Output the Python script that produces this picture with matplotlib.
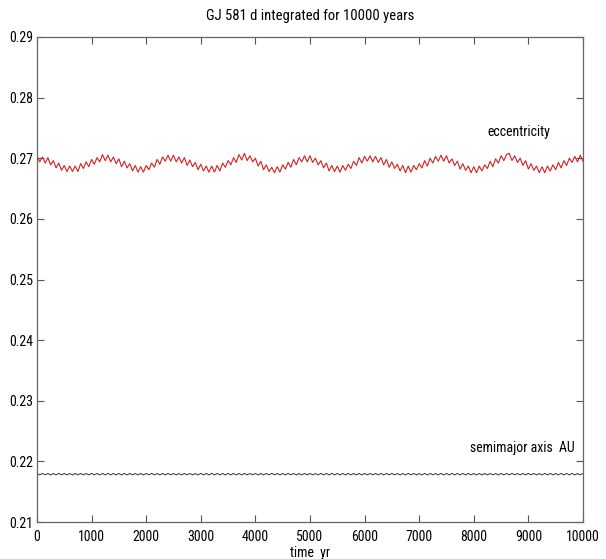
import matplotlib.pyplot as plt
from matplotlib import font_manager
import numpy as np

# time samples (years), one every 50 yr
time_yr = np.arange(0, 10001, 50)

# eccentricity
eccentricity = [
    0.2704, 0.2694, 0.2702, 0.2692, 0.2701, 0.2689, 0.2696, 0.2684, 0.2692, 0.2680,
    0.2688, 0.2678, 0.2687, 0.2678,
    0.2687, 0.2678, 0.2691, 0.2683, 0.2694, 0.2686, 0.2698, 0.2690, 0.2701, 0.2694,
    0.2706, 0.2696,
    0.2705, 0.2694, 0.2702, 0.2691, 0.2699, 0.2686, 0.2695, 0.2684, 0.2691, 0.2679,
    0.2688, 0.2677, 0.2686,
    0.2677, 0.2688, 0.2681, 0.2692, 0.2685, 0.2698, 0.2690, 0.2702, 0.2695, 0.2705,
    0.2695,
    0.2705, 0.2694, 0.2702, 0.2692, 0.2701, 0.2688, 0.2697, 0.2686, 0.2693, 0.2681,
    0.2690, 0.2679, 0.2687, 0.2677, 0.2687,
    0.2677, 0.2688, 0.2679, 0.2692, 0.2685, 0.2696, 0.2689, 0.2701, 0.2693, 0.2706,
    0.2697, 0.2708,
    0.2696, 0.2704, 0.2694, 0.2700, 0.2687, 0.2695, 0.2681, 0.2689, 0.2678, 0.2685,
    0.2676,
    0.2686, 0.2677, 0.2689, 0.2682, 0.2693, 0.2685, 0.2698, 0.2689, 0.2701, 0.2694,
    0.2704, 0.2694,
    0.2704, 0.2693, 0.2700, 0.2689, 0.2696, 0.2684, 0.2692, 0.2679, 0.2688, 0.2678,
    0.2687,
    0.2677, 0.2688, 0.2680, 0.2690, 0.2683, 0.2695, 0.2688, 0.2701, 0.2692, 0.2703,
    0.2695, 0.2704,
    0.2694, 0.2703, 0.2693, 0.2701, 0.2689, 0.2698, 0.2685, 0.2694, 0.2683, 0.2690,
    0.2679, 0.2688, 0.2676, 0.2687,
    0.2677, 0.2688, 0.2681, 0.2691, 0.2684, 0.2696, 0.2687, 0.2700, 0.2692, 0.2703,
    0.2695, 0.2705,
    0.2695, 0.2704, 0.2692, 0.2699, 0.2688, 0.2695, 0.2682, 0.2691, 0.2680, 0.2687,
    0.2676, 0.2686,
    0.2676, 0.2687, 0.2679, 0.2689, 0.2683, 0.2695, 0.2686, 0.2699, 0.2692, 0.2704,
    0.2696, 0.2706, 0.2708,
    0.2696, 0.2704, 0.2693, 0.2700, 0.2688, 0.2696, 0.2682, 0.2691, 0.2680, 0.2687,
    0.2676, 0.2686,
    0.2676, 0.2687, 0.2679, 0.2689, 0.2681, 0.2693, 0.2684, 0.2696, 0.2688, 0.2700,
    0.2693, 0.2703, 0.2694, 0.2705, 0.2695,
]

# semimajor axis (AU)
semimajor = [
    0.21802, 0.21778, 0.21803, 0.21779, 0.21801, 0.21777, 0.21802, 0.21778, 0.21804, 0.21779,
    0.21801, 0.21778, 0.21802, 0.21777, 0.21803, 0.21779, 0.21802, 0.21778, 0.21801, 0.21778,
    0.21803, 0.21779, 0.21802, 0.21777, 0.21801, 0.21778, 0.21804, 0.21779, 0.21802, 0.21778,
    0.21801, 0.21777, 0.21803, 0.21778, 0.21802, 0.21779, 0.21801, 0.21778, 0.21803, 0.21777,
    0.21802, 0.21778, 0.21804, 0.21779, 0.21801, 0.21778, 0.21802, 0.21777, 0.21803, 0.21779,
    0.21802, 0.21778, 0.21801, 0.21777, 0.21803, 0.21778, 0.21802, 0.21779, 0.21801, 0.21778,
    0.21803, 0.21777, 0.21802, 0.21778, 0.21804, 0.21779, 0.21801, 0.21778, 0.21802, 0.21777,
    0.21803, 0.21779, 0.21802, 0.21778, 0.21801, 0.21777, 0.21803, 0.21778, 0.21802, 0.21779,
    0.21801, 0.21778, 0.21803, 0.21777, 0.21802, 0.21778, 0.21804, 0.21779, 0.21801, 0.21778,
    0.21802, 0.21777, 0.21803, 0.21779, 0.21802, 0.21778, 0.21801, 0.21777, 0.21803, 0.21778,
    0.21802, 0.21779, 0.21801, 0.21778, 0.21803, 0.21777, 0.21802, 0.21778, 0.21804, 0.21779,
    0.21801, 0.21778, 0.21802, 0.21777, 0.21803, 0.21779, 0.21802, 0.21778, 0.21801, 0.21777,
    0.21803, 0.21778, 0.21802, 0.21779, 0.21801, 0.21778, 0.21803, 0.21777, 0.21802, 0.21778,
    0.21804, 0.21779, 0.21801, 0.21778, 0.21802, 0.21777, 0.21803, 0.21779, 0.21802, 0.21778,
    0.21801, 0.21777, 0.21803, 0.21778, 0.21802, 0.21779, 0.21801, 0.21778, 0.21803, 0.21777,
    0.21802, 0.21778, 0.21804, 0.21779, 0.21801, 0.21778, 0.21802, 0.21777, 0.21803, 0.21779,
    0.21802, 0.21778, 0.21801, 0.21777, 0.21803, 0.21778, 0.21802, 0.21779, 0.21801, 0.21778,
    0.21803, 0.21777, 0.21802, 0.21778, 0.21804, 0.21779, 0.21801, 0.21778, 0.21802, 0.21777,
    0.21803, 0.21779, 0.21802, 0.21778, 0.21801, 0.21777, 0.21803, 0.21778, 0.21802, 0.21779,
    0.21801, 0.21778, 0.21803, 0.21777, 0.21802, 0.21778, 0.21804, 0.21779, 0.21801, 0.21778,
    0.21802,
]

x_ticks = np.arange(0, 10001, 1000)
y_ticks = [0.21, 0.22, 0.23, 0.24, 0.25, 0.26, 0.27, 0.28, 0.29]

# narrow Helvetica-like face if there is one
installed = {f.name for f in font_manager.fontManager.ttflist}
face = 'Liberation Sans'
for cand in ['Liberation Sans Narrow', 'Arial Narrow', 'Roboto Condensed', 'Archivo Narrow', 'PT Sans Narrow']:
    if cand in installed:
        face = cand
        break
plt.rcParams['font.family'] = [face, 'DejaVu Sans']
fs = 10 if face != 'Liberation Sans' else 8.5

fig = plt.figure(figsize=(6.06, 5.59), dpi=100)
ax = fig.add_axes([0.061, 0.066, 0.901, 0.868])

ax.plot(time_yr, eccentricity, color='#d42020', lw=0.8)
ax.plot(time_yr, semimajor, color='#333333', lw=0.7)

ax.set_xlim(0, 10000)
ax.set_ylim(0.21, 0.29)
ax.set_xticks(x_ticks)
ax.set_yticks(y_ticks)
ax.set_yticklabels([f"{v:.2f}" for v in y_ticks])
ax.tick_params(direction='in', top=True, right=True, length=5, width=0.8,
               labelsize=fs, color='#555555')
ax.tick_params(axis='x', pad=6)
ax.tick_params(axis='y', pad=3)
for s in ax.spines.values():
    s.set_color('#666666')
    s.set_linewidth(0.9)

ax.text(8250, 0.2736, 'eccentricity', fontsize=fs)
ax.text(7930, 0.2215, 'semimajor axis  AU', fontsize=fs)
ax.set_xlabel('time  yr', fontsize=fs, labelpad=1)
ax.set_title('GJ 581 d integrated for 10000 years', fontsize=fs + 0.5, pad=12)

fig.savefig('out.png', dpi=100)
